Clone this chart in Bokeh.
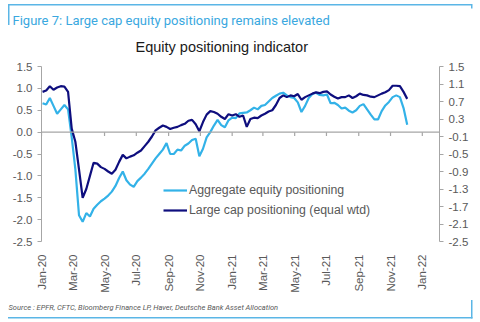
import datetime as dt
import pandas as pd
from bokeh.plotting import figure
from bokeh.models import (Range1d, LinearAxis, FixedTicker, NumeralTickFormatter,
                          DatetimeTickFormatter, Span, Legend, LegendItem,
                          ColumnDataSource, Title)
from bokeh.embed import file_html
from bokeh.resources import INLINE

# ---------------- data ----------------
dates = pd.date_range("2020-01-03", periods=101, freq="7D")

aggregate = [
    0.66, 0.63, 0.78, 0.60, 0.42, 0.52, 0.62, 0.52, -0.12, -0.85,
    -1.90, -2.05, -1.85, -1.93, -1.75, -1.66, -1.58, -1.52, -1.45, -1.36,
    -1.23, -1.05, -0.90, -1.10, -1.20, -1.25, -1.12, -1.04, -0.95, -0.84,
    -0.72, -0.60, -0.50, -0.40, -0.25, -0.50, -0.50, -0.40, -0.42, -0.31,
    -0.26, -0.18, -0.15, -0.55, -0.38, -0.12, 0.00, 0.15, 0.28, 0.16,
    0.11, 0.27, 0.33, 0.32, 0.43, 0.44, 0.45, 0.50, 0.56, 0.52,
    0.60, 0.62, 0.70, 0.78, 0.83, 0.88, 0.90, 0.84, 0.80, 0.78,
    0.68, 0.46, 0.60, 0.78, 0.87, 0.90, 0.85, 0.84, 0.86, 0.66,
    0.67, 0.62, 0.54, 0.56, 0.49, 0.45, 0.50, 0.60, 0.64, 0.52,
    0.40, 0.29, 0.29, 0.48, 0.61, 0.69, 0.80, 0.84, 0.80, 0.55,
    0.17,
]

large_cap = [
    0.92, 0.95, 1.05, 0.97, 1.02, 1.05, 1.04, 0.92, 0.08, -0.22,
    -0.85, -1.50, -1.30, -1.00, -0.70, -0.72, -0.80, -0.84, -0.90, -0.95,
    -0.86, -0.68, -0.52, -0.60, -0.56, -0.53, -0.47, -0.42, -0.32, -0.22,
    -0.10, 0.04, 0.10, 0.15, 0.12, 0.07, 0.10, 0.12, 0.16, 0.19,
    0.26, 0.28, 0.18, 0.02, 0.23, 0.40, 0.48, 0.46, 0.42, 0.35,
    0.30, 0.41, 0.38, 0.41, 0.35, 0.38, 0.12, 0.30, 0.33, 0.32,
    0.38, 0.42, 0.47, 0.50, 0.62, 0.78, 0.84, 0.80, 0.84, 0.82,
    0.87, 0.74, 0.80, 0.84, 0.88, 0.91, 0.89, 0.92, 0.93, 0.86,
    0.81, 0.77, 0.80, 0.80, 0.84, 0.78, 0.82, 0.88, 0.85, 0.84,
    0.81, 0.80, 0.84, 0.88, 0.91, 0.96, 1.06, 1.06, 1.05, 0.92,
    0.76,
]

x_tick_dates = pd.date_range("2020-01-01", "2022-01-01", freq="2MS")
left_ticks = [-2.5, -2.0, -1.5, -1.0, -0.5, 0.0, 0.5, 1.0, 1.5]
right_ticks = [1.5, 1.1, 0.7, 0.3, -0.1, -0.5, -0.9, -1.3, -1.7, -2.1, -2.5]

series_names = ["Aggregate equity positioning", "Large cap positioning (equal wtd)"]
fig_title = "Figure 7: Large cap equity positioning remains elevated"
chart_title = "Equity positioning indicator"
source_text = "Source : EPFR, CFTC, Bloomberg Finance LP, Haver, Deutsche Bank Asset Allocation"

# ---------------- styling ----------------
LIGHT = "#33B2E8"
DARK = "#0E0E7E"
AXIS_GRAY = "#A6A6A6"
TEXT_GRAY = "#595959"
FRAME_BLUE = "#5BB6E6"
FONT = "Liberation Sans"

W, H = 480, 322
F_LEFT, F_RIGHT, F_TOP, F_BOTTOM = 41, 439, 66, 241

p = figure(width=W, height=H, x_axis_type="datetime", title=None,
           x_range=Range1d(start=dt.datetime(2020, 1, 1), end=dt.datetime(2022, 2, 3)),
           y_range=Range1d(-2.5, 1.5),
           output_backend="svg", toolbar_location=None,
           min_border_left=F_LEFT, min_border_right=W - F_RIGHT,
           min_border_top=F_TOP, min_border_bottom=H - F_BOTTOM,
           background_fill_color="white", border_fill_color=None)
p.extra_y_ranges = {"right": Range1d(-2.5, 1.5)}
p.outline_line_color = None
p.xgrid.visible = False
p.ygrid.visible = False

# decorative report-frame lines drawn as page background behind the canvas
frame_lines = [(8, 3.5, 464, 1.5), (7.5, 3.5, 1.5, 21), (471, 3.5, 1.5, 4.5),
               (8, 317, 464.5, 1.5), (471, 300, 1.5, 18.5)]
grad = "linear-gradient(%s, %s)" % (FRAME_BLUE, FRAME_BLUE)
p.styles = {
    "background-color": "white",
    "background-image": ", ".join([grad] * len(frame_lines)),
    "background-repeat": "no-repeat",
    "background-position": ", ".join("%spx %spx" % (x, y) for x, y, w, h in frame_lines),
    "background-size": ", ".join("%spx %spx" % (w, h) for x, y, w, h in frame_lines),
}

# x axis (labels low, axis line at zero drawn separately)
xa = p.xaxis[0]
xa.ticker = FixedTicker(ticks=[d.value / 1e6 for d in x_tick_dates])
xa.formatter = DatetimeTickFormatter(days="%b-%y", months="%b-%y", years="%b-%y",
                                     hours="%b-%y", minutes="%b-%y")
xa.major_label_orientation = 3.14159265 / 2
xa.axis_line_color = None
xa.major_tick_line_color = None
xa.minor_tick_line_color = None
xa.major_label_standoff = 7
xa.major_label_text_font = FONT
xa.major_label_text_font_size = "11.5px"
xa.major_label_text_color = TEXT_GRAY

ya = p.yaxis[0]
ya.ticker = FixedTicker(ticks=left_ticks)
ya.formatter = NumeralTickFormatter(format="0.0")

ra = LinearAxis(y_range_name="right", ticker=FixedTicker(ticks=right_ticks),
                formatter=NumeralTickFormatter(format="0.0"))
p.add_layout(ra, "right")

for ax in (ya, ra):
    ax.axis_line_color = AXIS_GRAY
    ax.major_tick_line_color = AXIS_GRAY
    ax.minor_tick_line_color = None
    ax.major_tick_out = 4
    ax.major_tick_in = 0
    ax.major_label_standoff = 5
    ax.major_label_text_font = FONT
    ax.major_label_text_font_size = "11.5px"
    ax.major_label_text_color = TEXT_GRAY

# zero line with tick marks
p.add_layout(Span(location=0, dimension="width", line_color=AXIS_GRAY, line_width=1.3))
p.segment(x0=list(x_tick_dates), y0=0, x1=list(x_tick_dates), y1=-0.09,
          line_color=AXIS_GRAY, line_width=1.2)

src = ColumnDataSource(dict(date=dates, agg=aggregate, lc=large_cap))
r1 = p.line("date", "agg", source=src, line_color=LIGHT, line_width=2.2)
r2 = p.line("date", "lc", source=src, line_color=DARK, line_width=2.2, y_range_name="right")

legend = Legend(items=[LegendItem(label=series_names[0], renderers=[r1]),
                       LegendItem(label=series_names[1], renderers=[r2])],
                location=(163 - F_LEFT, F_BOTTOM - 220),
                padding=0, margin=0, spacing=0, glyph_width=24, glyph_height=20,
                label_height=20, label_standoff=2,
                border_line_color=None, background_fill_alpha=0,
                label_text_font=FONT, label_text_font_size="12.3px",
                label_text_color=TEXT_GRAY)
p.add_layout(legend, "center")

# titles (closest to plot first); a thin blank title acts as a spacer
p.add_layout(Title(text=" ", text_font=FONT, text_font_size="4px", standoff=0), "above")
p.add_layout(Title(text=chart_title, align="left", offset=135 - F_LEFT,
                   text_font=FONT, text_font_size="14.5px", text_font_style="normal",
                   text_color="#1A1A1A", standoff=10), "above")
p.add_layout(Title(text=fig_title, align="left", offset=12 - F_LEFT,
                   text_font="Roboto", text_font_size="13px", text_font_style="normal",
                   text_color="#3AA8E0", standoff=8, text_line_height=1.0), "above")
p.add_layout(Title(text=source_text, align="left", offset=8 - F_LEFT,
                   text_font="Roboto", text_font_size="7.5px", text_font_style="italic",
                   text_color=TEXT_GRAY, standoff=11), "below")

open("out.html", "w").write(file_html(p, INLINE))
